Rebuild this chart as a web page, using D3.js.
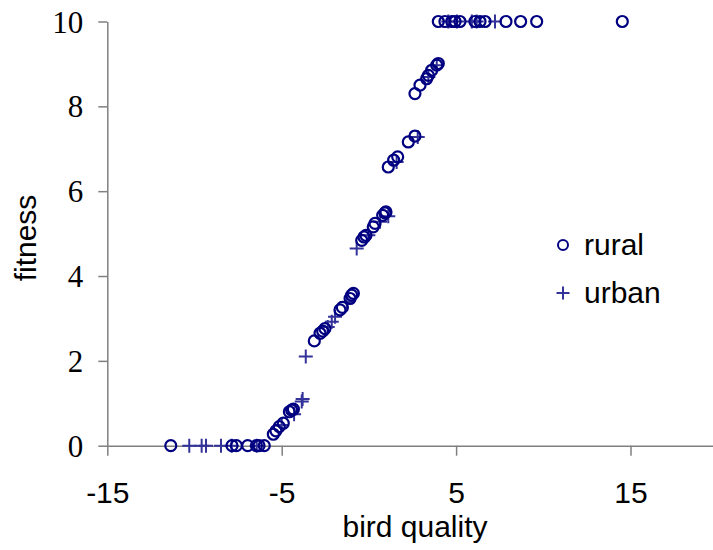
<!DOCTYPE html>
<html>
<head>
<meta charset="utf-8">
<script src="https://cdn.jsdelivr.net/npm/d3@7"></script>
<style>
  html, body { margin: 0; padding: 0; background: #fff; }
  svg { display: block; }
</style>
</head>
<body>
<svg id="chart" width="713" height="550"></svg>
<script>
// Bird quality (x) against fitness (y) for rural and urban birds
const ruralX = [-11.36, -7.85, -7.6, -6.95, -6.45, -6.3, -6.0,
  -5.48, -5.33, -5.14, -4.91, -4.56, -4.43, -4.33,
  -3.13, -2.80, -2.65, -2.52, -1.66, -1.52, -1.08, -0.99, -0.89,
  -0.41, -0.28, -0.17, 0.25, 0.35, 0.79, 0.92, 0.98,
  1.11, 1.42, 1.65, 2.26, 2.64, 2.64, 2.93, 3.31, 3.41, 3.60, 3.89, 3.98,
  3.98, 4.36, 4.75, 4.94, 5.22, 6.08, 6.37, 6.66, 7.86, 8.70, 9.62, 14.53];
const ruralY = [0, 0, 0, 0, 0, 0, 0,
  0.27, 0.35, 0.45, 0.53, 0.80, 0.84, 0.86,
  2.47, 2.65, 2.70, 2.76, 3.20, 3.26, 3.47, 3.55, 3.59,
  4.84, 4.92, 4.96, 5.16, 5.24, 5.43, 5.49, 5.51,
  6.57, 6.73, 6.81, 7.16, 7.30, 8.30, 8.50, 8.65, 8.73, 8.85, 8.97, 9.01,
  10, 10, 10, 10, 10, 10, 10, 10, 10, 10, 10, 10];

const urbanX = [-10.30, -9.59, -9.34, -8.48, -7.87, -6.43,
  -5.0, -4.29, -3.85, -3.80, -3.62, -2.36, -2.13, -1.94, -1.27,
  -0.70, -0.03, 0.64, 1.11, 1.59, 2.80, 3.41, 3.89,
  4.55, 5.05, 5.9, 6.18, 7.23];
const urbanY = [0, 0, 0, 0, 0, 0,
  0.49, 0.74, 1.04, 1.10, 2.10, 2.80, 2.92, 3.04, 3.39,
  4.65, 4.96, 5.28, 5.41, 6.69, 7.28, 8.69, 8.97,
  10, 10, 10, 10, 10];

const xTicks = [-15, -5, 5, 15];
const yTicks = [0, 2, 4, 6, 8, 10];
const seriesNames = ["rural", "urban"];

const svg = d3.select("#chart");
const x = d3.scaleLinear().domain([-15, 20]).range([107.3, 717.7]);
const y = d3.scaleLinear().domain([0, 10]).range([445.7, 21.5]);

const axisColor = "#808080";
const ruralColor = "#000080";
const urbanColor = "#333399";
const sans = "'Liberation Sans', Arial, sans-serif";

// x axis sits at fitness = 0
const gx = svg.append("g").attr("transform", `translate(0,${y(0)})`)
  .call(d3.axisBottom(x).tickValues(xTicks).tickSize(10).tickSizeOuter(0));
gx.select(".domain").attr("stroke", axisColor).attr("stroke-width", 1.5);
gx.selectAll(".tick line").attr("stroke", axisColor).attr("stroke-width", 1.5);
gx.selectAll(".tick text")
  .attr("font-family", sans)
  .attr("font-size", 30).attr("fill", "#000")
  .attr("y", 503 - y(0)).attr("dy", 0)
  .text(d => d < 0 ? "-" + Math.abs(d) : d);

const gy = svg.append("g").attr("transform", `translate(${x(-15)},0)`)
  .call(d3.axisLeft(y).tickValues(yTicks).tickSize(9).tickSizeOuter(0));
gy.select(".domain").attr("stroke", axisColor).attr("stroke-width", 1.5);
gy.selectAll(".tick line").attr("stroke", axisColor).attr("stroke-width", 1.5);
gy.selectAll(".tick text")
  .attr("font-family", "'Liberation Serif', 'Times New Roman', serif")
  .attr("font-size", 31).attr("fill", "#000")
  .attr("x", -24).attr("dy", "0.34em");

// axis titles
svg.append("text")
  .attr("x", 415).attr("y", 537)
  .attr("text-anchor", "middle")
  .attr("font-family", sans)
  .attr("font-size", 30)
  .text("bird quality");

svg.append("text")
  .attr("transform", "translate(36,238) rotate(-90)")
  .attr("text-anchor", "middle")
  .attr("font-family", sans)
  .attr("font-size", 30)
  .text("fitness");

// markers
const plusPath = s => `M${-s},0H${s}M0,${-s}V${s}`;

const urbanPts = urbanX.map((v, i) => [v, urbanY[i]]);
const ruralPts = ruralX.map((v, i) => [v, ruralY[i]]);

svg.append("g").selectAll("path").data(urbanPts).join("path")
  .attr("transform", d => `translate(${x(d[0])},${y(d[1])})`)
  .attr("d", plusPath(7))
  .attr("fill", "none").attr("stroke", urbanColor).attr("stroke-width", 2);

svg.append("g").selectAll("circle").data(ruralPts).join("circle")
  .attr("cx", d => x(d[0])).attr("cy", d => y(d[1])).attr("r", 5.5)
  .attr("fill", "none").attr("stroke", ruralColor).attr("stroke-width", 2.2);

// legend
const legend = svg.append("g").attr("font-family", sans).attr("font-size", 30);
legend.append("circle").attr("cx", 563).attr("cy", 245).attr("r", 5)
  .attr("fill", "none").attr("stroke", ruralColor).attr("stroke-width", 2);
legend.append("text").attr("x", 584).attr("y", 255).text(seriesNames[0]);
legend.append("path").attr("transform", "translate(563,293)").attr("d", plusPath(6.5))
  .attr("fill", "none").attr("stroke", urbanColor).attr("stroke-width", 2);
legend.append("text").attr("x", 584).attr("y", 303).text(seriesNames[1]);
</script>
</body>
</html>
